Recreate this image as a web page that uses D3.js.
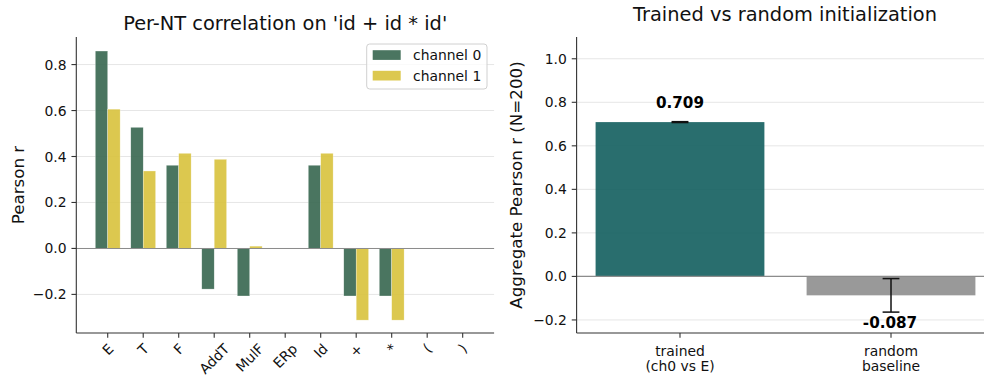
<!DOCTYPE html>
<html><head><meta charset="utf-8">
<script src="https://cdn.jsdelivr.net/npm/d3@7"></script>
<style>body{margin:0;background:#fff}svg{display:block;font-family:"DejaVu Sans",sans-serif}</style>
</head><body><svg id="c" width="984" height="377"></svg>
<script>
// ---- data ----
const categories = ["E","T","F","AddT","MulF","ERp","Id","+","*","(",")"];
const channels = ["channel 0","channel 1"];
const channel0 = [0.859,0.527,0.362,-0.177,-0.207,0,0.362,-0.207,-0.207,0,0];
const channel1 = [0.606,0.337,0.414,0.388,0.010,0,0.414,-0.312,-0.312,0,0];
const leftTicks = [-0.2,0,0.2,0.4,0.6,0.8];

const groups = [["trained","(ch0 vs E)"],["random","baseline"]];
const aggValues = [0.709,-0.087];
const aggErrors = [0.002,0.077];
const aggLabels = ["0.709","-0.087"];
const rightTicks = [-0.2,0,0.2,0.4,0.6,0.8,1.0];

const svg = d3.select("#c");
const spine = "#333", gridC = "#e6e6e6", zeroC = "#8c8c8c";
const fmt = v => (v<0?"\u2212":"") + Math.abs(v).toFixed(1);
const TL = 4.86, TP = 4.86, FS = 13.9;

// ---------- LEFT PANEL ----------
const L = {x0:76.3, x1:494.1, y0:37, y1:333};
const xL = d3.scaleBand().domain(categories).range([L.x0,L.x1]).paddingInner(0.3).paddingOuter(0.535);
const xSub = d3.scaleBand().domain(channels).range([0,xL.bandwidth()]);
const yL = d3.scaleLinear().domain([-0.368,0.92]).range([L.y1,L.y0]);
const colors = {"channel 0":"#36664f","channel 1":"#d8c23c"};

const gl = svg.append("g");
gl.selectAll(".grid").data(leftTicks).join("line")
  .attr("x1",L.x0).attr("x2",L.x1).attr("y1",d=>yL(d)).attr("y2",d=>yL(d))
  .attr("stroke",gridC).attr("stroke-width",1);

const series = [channel0, channel1];
channels.forEach((ch,si)=>{
  gl.selectAll(".b"+si).data(categories).join("rect")
    .attr("x",d=>xL(d)+xSub(ch)).attr("width",xSub.bandwidth())
    .attr("y",(d,i)=>yL(Math.max(0,series[si][i])))
    .attr("height",(d,i)=>Math.abs(yL(series[si][i])-yL(0)))
    .attr("fill",colors[ch]).attr("fill-opacity",0.9)
    .attr("stroke","#fff").attr("stroke-opacity",0.6).attr("stroke-width",0.5);
});
gl.append("line").attr("x1",L.x0).attr("x2",L.x1).attr("y1",yL(0)).attr("y2",yL(0))
  .attr("stroke",zeroC).attr("stroke-width",1.1);

// spines
gl.append("line").attr("x1",L.x0).attr("x2",L.x0).attr("y1",L.y0).attr("y2",L.y1).attr("stroke",spine).attr("stroke-width",1.1);
gl.append("line").attr("x1",L.x0).attr("x2",L.x1).attr("y1",L.y1).attr("y2",L.y1).attr("stroke",spine).attr("stroke-width",1.1);
// y ticks
leftTicks.forEach(t=>{
  gl.append("line").attr("x1",L.x0-TL).attr("x2",L.x0).attr("y1",yL(t)).attr("y2",yL(t)).attr("stroke",spine).attr("stroke-width",1.1);
  gl.append("text").attr("x",L.x0-TL-TP).attr("y",yL(t)).attr("dy","0.36em").attr("text-anchor","end")
    .attr("font-size",FS).attr("fill","#111").text(fmt(t));
});
// x ticks
categories.forEach(c=>{
  const cx = xL(c)+xL.bandwidth()/2;
  gl.append("line").attr("x1",cx).attr("x2",cx).attr("y1",L.y1).attr("y2",L.y1+TL).attr("stroke",spine).attr("stroke-width",1.1);
  const t = gl.append("text").attr("text-anchor","middle").attr("font-size",FS).attr("fill","#111").text(c);
  const w = t.node().getComputedTextLength();
  const h = 1.0*FS;
  const top = L.y1+TL+TP-1.5;
  const cy = top + (w+h)*Math.SQRT1_2/2;
  t.attr("x",cx).attr("y",cy).attr("dy","0.36em").attr("transform",`rotate(-45,${cx},${cy})`);
});
gl.append("text").attr("transform",`translate(24,${(L.y0+L.y1)/2}) rotate(-90)`).attr("text-anchor","middle")
  .attr("font-size",16.7).attr("fill","#111").text("Pearson r");
gl.append("text").attr("x",(L.x0+L.x1)/2).attr("y",29.5).attr("text-anchor","middle")
  .attr("font-size",19.4).attr("fill","#111").text("Per-NT correlation on 'id + id * id'");
// legend
const lg = gl.append("g");
lg.append("rect").attr("x",366.7).attr("y",44).attr("width",120.3).attr("height",45).attr("rx",3)
  .attr("fill","#fff").attr("fill-opacity",0.8).attr("stroke","#d0d0d0").attr("stroke-width",1);
channels.forEach((ch,i)=>{
  const cy = 55 + i*20.6;
  lg.append("rect").attr("x",372.7).attr("y",cy-4.8).attr("width",28).attr("height",9.7)
    .attr("fill",colors[ch]).attr("fill-opacity",0.9);
  lg.append("text").attr("x",413).attr("y",cy).attr("dy","0.36em").attr("font-size",FS).attr("fill","#111").text(ch);
});

// ---------- RIGHT PANEL ----------
const R = {x0:576.6, x1:994.4, y0:37, y1:333};
const xR = d3.scaleBand().domain(groups.map(g=>g[0])).range([R.x0,R.x1]).paddingInner(0.2).paddingOuter(0.09);
const yR = d3.scaleLinear().domain([-0.26,1.1]).range([R.y1,R.y0]);
const aggColors = ["#125e5e","#8e8e8e"];
const gr = svg.append("g");
gr.selectAll(".grid").data(rightTicks).join("line")
  .attr("x1",R.x0).attr("x2",R.x1).attr("y1",d=>yR(d)).attr("y2",d=>yR(d))
  .attr("stroke",gridC).attr("stroke-width",1);
groups.forEach((g,i)=>{
  const v = aggValues[i], e = aggErrors[i];
  const x = xR(g[0]), bw = xR.bandwidth(), cx = x+bw/2;
  gr.append("rect").attr("x",x).attr("width",bw).attr("y",yR(Math.max(0,v))).attr("height",Math.abs(yR(v)-yR(0)))
    .attr("fill",aggColors[i]).attr("fill-opacity",0.9);
  // error bar
  gr.append("line").attr("x1",cx).attr("x2",cx).attr("y1",yR(v-e)).attr("y2",yR(v+e)).attr("stroke","#111").attr("stroke-width",1.5);
  [v-e,v+e].forEach(y=>gr.append("line").attr("x1",cx-8.4).attr("x2",cx+8.4).attr("y1",yR(y)).attr("y2",yR(y)).attr("stroke","#111").attr("stroke-width",1.5));
  const ly = v>=0 ? yR(v+e)-14 : yR(v-e)+15.5;
  gr.append("text").attr("x",cx-(v<0?1:0)).attr("y",ly).attr("text-anchor","middle").attr("font-size",15.2)
    .attr("font-weight","bold").attr("fill","#000").text(aggLabels[i]);
  // x tick
  gr.append("line").attr("x1",cx).attr("x2",cx).attr("y1",R.y1).attr("y2",R.y1+TL).attr("stroke",spine).attr("stroke-width",1.1);
  g.forEach((line,j)=>gr.append("text").attr("x",cx).attr("y",355.5+j*15.9).attr("text-anchor","middle")
    .attr("font-size",FS).attr("fill","#111").text(line));
});
gr.append("line").attr("x1",R.x0).attr("x2",R.x1).attr("y1",yR(0)).attr("y2",yR(0)).attr("stroke",zeroC).attr("stroke-width",1.1);
gr.append("line").attr("x1",R.x0).attr("x2",R.x0).attr("y1",R.y0).attr("y2",R.y1).attr("stroke",spine).attr("stroke-width",1.1);
gr.append("line").attr("x1",R.x0).attr("x2",R.x1).attr("y1",R.y1).attr("y2",R.y1).attr("stroke",spine).attr("stroke-width",1.1);
rightTicks.forEach(t=>{
  gr.append("line").attr("x1",R.x0-TL).attr("x2",R.x0).attr("y1",yR(t)).attr("y2",yR(t)).attr("stroke",spine).attr("stroke-width",1.1);
  gr.append("text").attr("x",R.x0-TL-TP).attr("y",yR(t)).attr("dy","0.36em").attr("text-anchor","end")
    .attr("font-size",FS).attr("fill","#111").text(fmt(t));
});
gr.append("text").attr("transform",`translate(522,${(R.y0+R.y1)/2}) rotate(-90)`).attr("text-anchor","middle")
  .attr("font-size",16.7).attr("fill","#111").text("Aggregate Pearson r (N=200)");
gr.append("text").attr("x",785).attr("y",20.5).attr("text-anchor","middle")
  .attr("font-size",19.4).attr("fill","#111").text("Trained vs random initialization");
</script></body></html>
